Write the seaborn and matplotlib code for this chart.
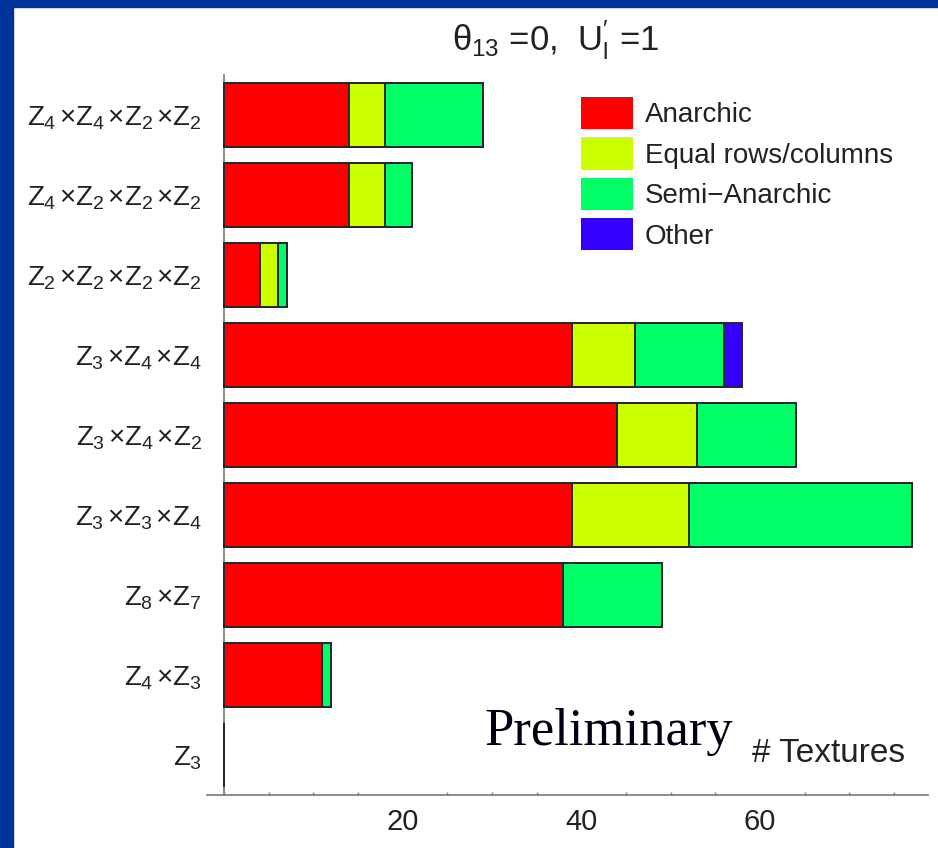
import matplotlib
matplotlib.use("Agg")
import matplotlib.pyplot as plt
from matplotlib.patches import Patch, Rectangle
from matplotlib.ticker import MultipleLocator
import seaborn as sns
import pandas as pd

# Symmetry groups (top to bottom) and number of textures of each kind
groups = [
    r"$Z_4\,{\times}Z_4\,{\times}Z_2\,{\times}Z_2$",
    r"$Z_4\,{\times}Z_2\,{\times}Z_2\,{\times}Z_2$",
    r"$Z_2\,{\times}Z_2\,{\times}Z_2\,{\times}Z_2$",
    r"$Z_3\,{\times}Z_4\,{\times}Z_4$",
    r"$Z_3\,{\times}Z_4\,{\times}Z_2$",
    r"$Z_3\,{\times}Z_3\,{\times}Z_4$",
    r"$Z_8\,{\times}Z_7$",
    r"$Z_4\,{\times}Z_3$",
    r"$Z_3$",
]
anarchic = [14, 14, 4, 39, 44, 39, 38, 11, 0]
equal_rows_columns = [4, 4, 2, 7, 9, 13, 0, 0, 0]
semi_anarchic = [11, 3, 1, 10, 11, 25, 11, 1, 0]
other = [0, 0, 0, 2, 0, 0, 0, 0, 0]

series_names = ["Anarchic", "Equal rows/columns", "Semi\u2212Anarchic", "Other"]
series_colors = ["#FF0000", "#CCFF00", "#00FF66", "#3300FF"]

sns.set_theme(style="white")
plt.rcParams["font.family"] = ["Liberation Sans", "DejaVu Sans"]
plt.rcParams["mathtext.fontset"] = "custom"
plt.rcParams["mathtext.rm"] = "Liberation Sans"
plt.rcParams["mathtext.it"] = "Liberation Sans"
plt.rcParams["mathtext.bf"] = "Liberation Sans:bold"

W, H = 938, 848
fig = plt.figure(figsize=(W / 100, H / 100), dpi=100, facecolor="white")

# dark blue slide frame
frame_blue = "#003399"
fig.patches.append(Rectangle((0, 0), 13 / W, 1, transform=fig.transFigure,
                             color=frame_blue, zorder=0))
fig.patches.append(Rectangle((0, 1 - 7 / H), 1, 7 / H, transform=fig.transFigure,
                             color=frame_blue, zorder=0))

ax = fig.add_axes([207 / W, 1 - 795 / H, (928 - 207) / W, (795 - 75) / H])
ax.set_facecolor("white")

df = pd.DataFrame({
    "group": groups,
    "Anarchic": anarchic,
    "Equal": equal_rows_columns,
    "Semi": semi_anarchic,
    "Other": other,
})
cols = ["Anarchic", "Equal", "Semi", "Other"]
cum = df[cols].cumsum(axis=1).assign(group=df["group"])

# stacked bars: draw cumulative totals from the outermost layer inwards
for col, color in reversed(list(zip(cols, series_colors))):
    sns.barplot(data=cum, x=col, y="group",
                orient="h", color=color, saturation=1, width=0.8,
                edgecolor="#262633", linewidth=1.4, ax=ax, zorder=2)

ax.set_xlim(-1.9, 78.8)
ax.set_ylim(8.5, -0.5)
ax.set_xlabel("")
ax.set_ylabel("")

for s in ["top", "right"]:
    ax.spines[s].set_visible(False)
ax.spines["left"].set_position(("data", 0))
for s in ["left", "bottom"]:
    ax.spines[s].set_color("#777777")
    ax.spines[s].set_linewidth(1.2)
    ax.spines[s].set_zorder(1)

ax.xaxis.set_major_locator(MultipleLocator(20))
ax.xaxis.set_minor_locator(MultipleLocator(5))
ax.set_xticks([20, 40, 60])
ax.tick_params(axis="x", which="major", direction="in", length=4, width=1,
               color="#777777", labelsize=21, pad=9, labelcolor="#222222")
ax.tick_params(axis="x", which="minor", direction="in", length=2.5, width=1,
               color="#777777", bottom=True)
ax.tick_params(axis="y", which="major", direction="in", length=4, width=1,
               color="#777777", labelsize=20, pad=16, labelcolor="#222222")

handles = [Patch(facecolor=c, edgecolor="none", label=n)
           for n, c in zip(series_names, series_colors)]
fig.legend(handles=handles, loc="upper left",
           bbox_to_anchor=(581 / W, 1 - 97 / H), bbox_transform=fig.transFigure,
           frameon=False, fontsize=20, handlelength=1.87, handleheight=1.4,
           handletextpad=0.43, labelspacing=0.3, borderpad=0, borderaxespad=0,
           labelcolor="#222222")

fig.text(555 / W, 1 - 40 / H,
         r"$\theta_{13}$ =0,  U$_{\mathrm{l}}^{\prime}$ =1",
         ha="center", va="center", fontsize=25, color="#222222")
fig.text(752 / W, 1 - 753 / H, "# Textures", ha="left", va="center",
         fontsize=24, color="#222222")
fig.text(484 / W, 1 - 745 / H, "Preliminary", ha="left", va="baseline",
         fontsize=38, family="Liberation Serif", color="#000014")

fig.savefig("out.png", dpi=100, facecolor="white")
